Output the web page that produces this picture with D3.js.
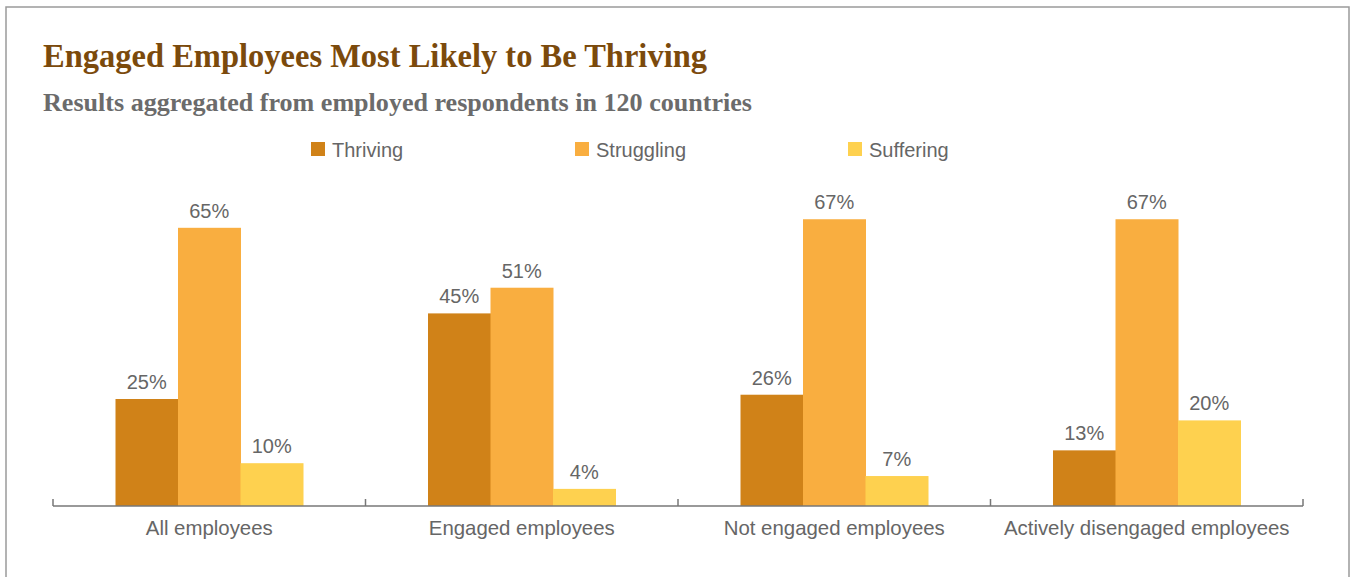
<!DOCTYPE html>
<html>
<head>
<meta charset="utf-8">
<script src="https://cdn.jsdelivr.net/npm/d3@7"></script>
<style>
  html, body { margin: 0; padding: 0; background: #fff; }
  svg { display: block; }
</style>
</head>
<body>
<svg id="chart" width="1351" height="577"></svg>
<script>
// ---- data ----
const categories = ["All employees", "Engaged employees", "Not engaged employees", "Actively disengaged employees"];
const seriesNames = ["Thriving", "Struggling", "Suffering"];
const thriving   = [25, 45, 26, 13];
const struggling = [65, 51, 67, 67];
const suffering  = [10, 4, 7, 20];
const seriesColors = ["#d08218", "#f9ae40", "#fed14f"];
const titleText = "Engaged Employees Most Likely to Be Thriving";
const subtitleText = "Results aggregated from employed respondents in 120 countries";

const seriesValues = [thriving, struggling, suffering];
const rows = categories.map((c, i) => ({
  category: c,
  values: seriesNames.map((s, j) => ({ series: s, value: seriesValues[j][i] }))
}));

const svg = d3.select("#chart");
const sansFont = "'Liberation Sans', Arial, Helvetica, sans-serif";
const serifFont = "'Liberation Serif', 'DejaVu Serif', Georgia, serif";

// frame
svg.append("rect")
  .attr("x", 6).attr("y", 7)
  .attr("width", 1343).attr("height", 620)
  .attr("fill", "none")
  .attr("stroke", "#9a9a9a")
  .attr("stroke-width", 1.5);

// title
svg.append("text")
  .attr("x", 43).attr("y", 67)
  .attr("font-family", serifFont)
  .attr("font-weight", "bold")
  .attr("font-size", 34)
  .attr("fill", "#7b4a0c")
  .attr("textLength", 664)
  .attr("lengthAdjust", "spacingAndGlyphs")
  .text(titleText);

svg.append("text")
  .attr("x", 43).attr("y", 111)
  .attr("font-family", serifFont)
  .attr("font-weight", "bold")
  .attr("font-size", 26)
  .attr("fill", "#6b6b6b")
  .attr("textLength", 709)
  .attr("lengthAdjust", "spacingAndGlyphs")
  .text(subtitleText);

// legend
const legendX = [311, 575, 848];
const legend = svg.append("g");
seriesNames.forEach((s, i) => {
  const g = legend.append("g").attr("transform", `translate(${legendX[i]},142)`);
  g.append("rect").attr("width", 14).attr("height", 14).attr("fill", seriesColors[i]);
  g.append("text")
    .attr("x", 21).attr("y", 15)
    .attr("font-family", sansFont)
    .attr("font-size", 20)
    .attr("fill", "#666")
    .text(s);
});

// scales
const left = 53, right = 1303, baseline = 506;
const x0 = d3.scaleBand().domain(categories).range([left, right]).padding(0);
const x1 = d3.scaleBand().domain(seriesNames).range([0, x0.bandwidth()]).paddingInner(0).paddingOuter(1);
const y = d3.scaleLinear().domain([0, 100]).range([baseline, baseline - 428]);
const color = d3.scaleOrdinal().domain(seriesNames).range(seriesColors);

// bars
const groups = svg.append("g").selectAll("g")
  .data(rows).join("g")
  .attr("transform", d => `translate(${x0(d.category)},0)`);

groups.selectAll("rect")
  .data(d => d.values).join("rect")
  .attr("x", d => x1(d.series))
  .attr("y", d => y(d.value))
  .attr("width", x1.bandwidth() + 0.5)
  .attr("height", d => y(0) - y(d.value))
  .attr("fill", d => color(d.series));

groups.selectAll("text.val")
  .data(d => d.values).join("text")
  .attr("class", "val")
  .attr("x", d => x1(d.series) + x1.bandwidth() / 2)
  .attr("y", d => y(d.value) - 10)
  .attr("text-anchor", "middle")
  .attr("font-family", sansFont)
  .attr("font-size", 20)
  .attr("fill", "#666")
  .text(d => d.value + "%");

// axis
const axis = svg.append("g");
axis.append("line")
  .attr("x1", left).attr("x2", right)
  .attr("y1", baseline).attr("y2", baseline)
  .attr("stroke", "#777").attr("stroke-width", 1.5);
const tickPos = categories.map(c => x0(c)).concat([right]);
axis.selectAll("line.tick")
  .data(tickPos).join("line")
  .attr("class", "tick")
  .attr("x1", d => d).attr("x2", d => d)
  .attr("y1", baseline - 7).attr("y2", baseline)
  .attr("stroke", "#777").attr("stroke-width", 1.5);

axis.selectAll("text.cat")
  .data(categories).join("text")
  .attr("class", "cat")
  .attr("x", d => x0(d) + x0.bandwidth() / 2)
  .attr("y", 535)
  .attr("text-anchor", "middle")
  .attr("font-family", sansFont)
  .attr("font-size", 20.4)
  .attr("fill", "#666")
  .text(d => d);
</script>
</body>
</html>
